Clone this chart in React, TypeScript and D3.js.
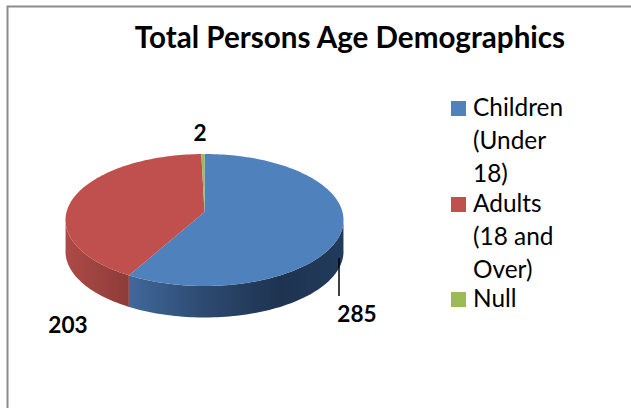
import React from "react";
import * as d3 from "d3";

const categories = ["Children (Under 18)", "Adults (18 and Over)", "Null"];
const values = [285, 203, 2];
const dataLabels = ["285", "203", "2"];
const colors = ["#4f81bd", "#c0504d", "#9bbb59"];
const legendLines = [["Children", "(Under", "18)"], ["Adults", "(18 and", "Over)"], ["Null"]];
const title = "Total Persons Age Demographics";

const W = 631, H = 408;
const cx = 204.5, cy = 220, rx = 139, ry = 66, depth = 31.5;
const persp = -0.12;

// Projects a true pie angle (0 = up, clockwise) on to the tilted disc.
function project(theta: number, r = 1, dy = 0): [number, number] {
  const u = r * Math.sin(theta), v = -r * Math.cos(theta);
  const w = 1 + persp * v;
  const x = (u * Math.sqrt(1 - persp * persp)) / w;
  const y = (v + persp) / w;
  return [cx + rx * x, cy + ry * y + dy];
}

const pieGen = d3.pie<number>().sort(null).startAngle(0).endAngle(2 * Math.PI);
const arcs = pieGen(values);
const lineGen = d3.line();

function sliceTop(a0: number, a1: number) {
  const n = Math.max(2, Math.ceil((a1 - a0) * 40));
  const pts: [number, number][] = [project(0, 0)];
  d3.range(n + 1).forEach((i) => pts.push(project(a0 + ((a1 - a0) * i) / n)));
  return lineGen(pts) + "Z";
}

// Wall of a slice: only the part of the rim that faces the viewer.
function sliceSide(a0: number, a1: number) {
  const n = Math.max(2, Math.ceil((a1 - a0) * 40));
  const angles = d3.range(n + 1).map((i) => a0 + ((a1 - a0) * i) / n);
  const vis = angles.filter((t) => project(t)[1] >= cy - 2);
  if (vis.length < 2) return null;
  const top = vis.map((t) => project(t));
  const bottom = vis.slice().reverse().map((t) => project(t, 1, depth));
  return lineGen([...top, ...bottom]) + "Z";
}

const fontFamily = "Lato, Carlito, sans-serif";

export default function App() {
  const legendY = [101, 197, 292];
  const lineStep = 33;
  return (
    <svg
      width={W}
      height={H}
      viewBox={`0 0 ${W} ${H}`}
      style={{ position: "absolute", left: 0, top: 0, background: "#fff" }}
      fontFamily={fontFamily}
    >
      <defs>
        <linearGradient id="sideBlue" gradientUnits="userSpaceOnUse" x1={128} x2={345} y1={0} y2={0}>
          <stop offset="0" stopColor="#41699b" />
          <stop offset="0.35" stopColor="#2c4a70" />
          <stop offset="0.7" stopColor="#1e3350" />
          <stop offset="1" stopColor="#223b5c" />
        </linearGradient>
        <linearGradient id="sideRed" gradientUnits="userSpaceOnUse" x1={65} x2={130} y1={0} y2={0}>
          <stop offset="0" stopColor="#ad4a47" />
          <stop offset="1" stopColor="#8c3c39" />
        </linearGradient>
      </defs>
      <path d={`M7.5 408V6.5H${W}`} fill="none" stroke="#8c8c8c" strokeWidth={2} />
      <text x={350} y={48} textAnchor="middle" fontSize={29.6} fontWeight={700} fill="#000">
        {title}
      </text>

      {arcs.map((a, i) => {
        const d = sliceSide(a.startAngle, a.endAngle);
        return d ? <path key={categories[i]} d={d} fill={i === 0 ? "url(#sideBlue)" : i === 1 ? "url(#sideRed)" : colors[i]} /> : null;
      })}
      {arcs.map((a, i) => (
        <path key={categories[i]} d={sliceTop(a.startAngle, a.endAngle)} fill={colors[i]} />
      ))}

      <line x1={339} x2={339} y1={258} y2={296} stroke="#000" strokeWidth={1.5} />
      <g fontSize={22.6} fontWeight={700} fill="#000" textAnchor="middle">
        <text x={357} y={322}>{dataLabels[0]}</text>
        <text x={68} y={333}>{dataLabels[1]}</text>
        <text x={200} y={141}>{dataLabels[2]}</text>
      </g>

      {legendLines.map((lines, i) => (
        <g key={lines[0]}>
          <rect x={451} y={legendY[i]} width={15} height={15} fill={colors[i]} />
          {lines.map((t, j) => (
            <text key={t} x={473} y={legendY[i] + 15 + j * lineStep} fontSize={24.4} fill="#000">
              {t}
            </text>
          ))}
        </g>
      ))}
    </svg>
  );
}
